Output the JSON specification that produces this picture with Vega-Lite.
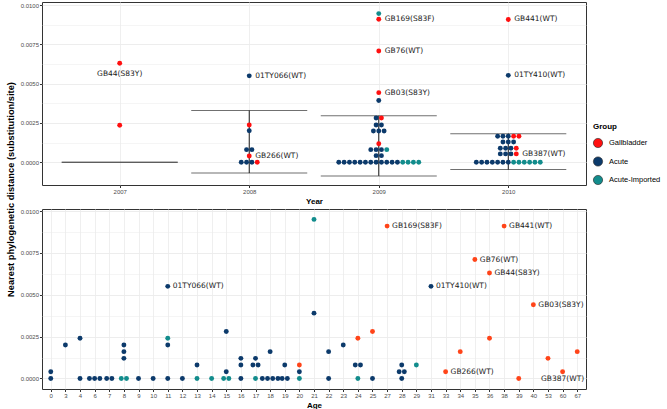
{
  "$schema": "https://vega.github.io/schema/vega-lite/v6.json",
  "padding": {"left": 5, "top": 1, "right": 2, "bottom": 2},
  "bounds": "flush",
  "spacing": 24,
  "config": {
    "view": {"stroke": "#333333", "strokeWidth": 1},
    "axis": {"domain": false, "gridColor": "#EBEBEB", "gridWidth": 0.8, "ticks": true, "tickColor": "#333333", "tickSize": 2.5, "labelFont": "Liberation Sans", "labelFontSize": 6, "labelColor": "#4D4D4D", "labelPadding": 1, "titleFont": "Liberation Sans", "titleFontSize": 8, "titleFontWeight": "bold", "titleColor": "#000000", "labelOverlap": false, "labelFlush": false},
    "legend": {"labelFont": "Liberation Sans", "labelFontSize": 7.5, "labelColor": "#000000", "titleFont": "Liberation Sans", "titleFontSize": 8, "titleFontWeight": "bold", "titleColor": "#000000"},
    "text": {"font": "DejaVu Sans", "fontSize": 7.5, "color": "#1A1A1A"}
  },
  "datasets": {
    "err": [
      {"year": 2007, "lo": 0, "hi": 0},
      {"year": 2008, "lo": -0.00069, "hi": 0.00329},
      {"year": 2009, "lo": -0.00087, "hi": 0.00296},
      {"year": 2010, "lo": -0.00047, "hi": 0.00182}
    ],
    "top": [
      {"year": 2007, "group": "Gallbladder", "value": 0.0063, "label": "GB44(S83Y)"},
      {"year": 2007, "group": "Gallbladder", "value": 0.00235},
      {"year": 2008, "group": "Acute", "value": 0.0055, "label": "01TY066(WT)"},
      {"year": 2008, "group": "Gallbladder", "value": 0.00237},
      {"year": 2008, "group": "Acute", "value": 0.002},
      {"year": 2008, "group": "Acute", "value": 0.0008},
      {"year": 2008, "group": "Acute", "value": 0.0008},
      {"year": 2008, "group": "Gallbladder", "value": 0.0004, "label": "GB266(WT)"},
      {"year": 2008, "group": "Acute", "value": 0},
      {"year": 2008, "group": "Acute", "value": 0},
      {"year": 2008, "group": "Acute", "value": 0},
      {"year": 2008, "group": "Gallbladder", "value": 0},
      {"year": 2009, "group": "Acute-Imported", "value": 0.00946},
      {"year": 2009, "group": "Gallbladder", "value": 0.0091, "label": "GB169(S83F)"},
      {"year": 2009, "group": "Gallbladder", "value": 0.00708, "label": "GB76(WT)"},
      {"year": 2009, "group": "Gallbladder", "value": 0.00443, "label": "GB03(S83Y)"},
      {"year": 2009, "group": "Acute", "value": 0.00393},
      {"year": 2009, "group": "Acute", "value": 0.00282},
      {"year": 2009, "group": "Gallbladder", "value": 0.00282},
      {"year": 2009, "group": "Acute", "value": 0.00237},
      {"year": 2009, "group": "Acute", "value": 0.00237},
      {"year": 2009, "group": "Acute", "value": 0.00199},
      {"year": 2009, "group": "Acute", "value": 0.00199},
      {"year": 2009, "group": "Acute", "value": 0.00199},
      {"year": 2009, "group": "Gallbladder", "value": 0.00118},
      {"year": 2009, "group": "Acute", "value": 0.0008},
      {"year": 2009, "group": "Acute", "value": 0.0008},
      {"year": 2009, "group": "Acute", "value": 0.0008},
      {"year": 2009, "group": "Acute-Imported", "value": 0.0008},
      {"year": 2009, "group": "Acute", "value": 0.00042},
      {"year": 2009, "group": "Acute", "value": 0.00042},
      {"year": 2009, "group": "Acute", "value": 0},
      {"year": 2009, "group": "Acute", "value": 0},
      {"year": 2009, "group": "Acute", "value": 0},
      {"year": 2009, "group": "Acute", "value": 0},
      {"year": 2009, "group": "Acute", "value": 0},
      {"year": 2009, "group": "Acute", "value": 0},
      {"year": 2009, "group": "Acute", "value": 0},
      {"year": 2009, "group": "Acute", "value": 0},
      {"year": 2009, "group": "Acute", "value": 0},
      {"year": 2009, "group": "Acute", "value": 0},
      {"year": 2009, "group": "Acute", "value": 0},
      {"year": 2009, "group": "Acute", "value": 0},
      {"year": 2009, "group": "Acute-Imported", "value": 0},
      {"year": 2009, "group": "Acute-Imported", "value": 0},
      {"year": 2009, "group": "Acute-Imported", "value": 0},
      {"year": 2009, "group": "Acute-Imported", "value": 0},
      {"year": 2010, "group": "Gallbladder", "value": 0.00909, "label": "GB441(WT)"},
      {"year": 2010, "group": "Acute", "value": 0.00553, "label": "01TY410(WT)"},
      {"year": 2010, "group": "Acute", "value": 0.00165},
      {"year": 2010, "group": "Acute", "value": 0.00165},
      {"year": 2010, "group": "Acute", "value": 0.00165},
      {"year": 2010, "group": "Gallbladder", "value": 0.00165},
      {"year": 2010, "group": "Gallbladder", "value": 0.00165},
      {"year": 2010, "group": "Acute", "value": 0.00129},
      {"year": 2010, "group": "Acute", "value": 0.00129},
      {"year": 2010, "group": "Acute", "value": 0.00129},
      {"year": 2010, "group": "Acute", "value": 0.00089},
      {"year": 2010, "group": "Acute", "value": 0.00089},
      {"year": 2010, "group": "Acute", "value": 0.00089},
      {"year": 2010, "group": "Gallbladder", "value": 0.00089},
      {"year": 2010, "group": "Acute", "value": 0.00053},
      {"year": 2010, "group": "Acute", "value": 0.00053},
      {"year": 2010, "group": "Acute", "value": 0.00053},
      {"year": 2010, "group": "Gallbladder", "value": 0.00053, "label": "GB387(WT)"},
      {"year": 2010, "group": "Acute", "value": 0},
      {"year": 2010, "group": "Acute", "value": 0},
      {"year": 2010, "group": "Acute", "value": 0},
      {"year": 2010, "group": "Acute", "value": 0},
      {"year": 2010, "group": "Acute", "value": 0},
      {"year": 2010, "group": "Acute", "value": 0},
      {"year": 2010, "group": "Acute", "value": 0},
      {"year": 2010, "group": "Acute-Imported", "value": 0},
      {"year": 2010, "group": "Acute-Imported", "value": 0},
      {"year": 2010, "group": "Acute-Imported", "value": 0},
      {"year": 2010, "group": "Acute-Imported", "value": 0},
      {"year": 2010, "group": "Acute-Imported", "value": 0},
      {"year": 2010, "group": "Acute-Imported", "value": 0}
    ],
    "bottom": [
      {"age": 0, "group": "Acute", "value": 0.0004},
      {"age": 0, "group": "Acute", "value": 0},
      {"age": 3, "group": "Acute", "value": 0.002},
      {"age": 4, "group": "Acute", "value": 0.0024},
      {"age": 4, "group": "Acute", "value": 0},
      {"age": 6, "group": "Acute", "value": 0},
      {"age": 6, "group": "Acute", "value": 0},
      {"age": 6, "group": "Acute", "value": 0},
      {"age": 7, "group": "Acute", "value": 0},
      {"age": 7, "group": "Acute", "value": 0},
      {"age": 8, "group": "Acute", "value": 0.0012},
      {"age": 8, "group": "Acute", "value": 0.0016},
      {"age": 8, "group": "Acute", "value": 0.002},
      {"age": 8, "group": "Acute-Imported", "value": 0},
      {"age": 8, "group": "Acute-Imported", "value": 0},
      {"age": 9, "group": "Acute", "value": 0},
      {"age": 10, "group": "Acute", "value": 0},
      {"age": 11, "group": "Acute", "value": 0},
      {"age": 11, "group": "Acute", "value": 0.002},
      {"age": 11, "group": "Acute-Imported", "value": 0.0024},
      {"age": 11, "group": "Acute", "value": 0.0055, "label": "01TY066(WT)"},
      {"age": 12, "group": "Acute", "value": 0},
      {"age": 13, "group": "Acute-Imported", "value": 0},
      {"age": 13, "group": "Acute", "value": 0.0008},
      {"age": 14, "group": "Acute-Imported", "value": 0},
      {"age": 15, "group": "Acute-Imported", "value": 0},
      {"age": 15, "group": "Acute-Imported", "value": 0},
      {"age": 15, "group": "Acute", "value": 0.0004},
      {"age": 15, "group": "Acute", "value": 0.0028},
      {"age": 16, "group": "Acute", "value": 0},
      {"age": 16, "group": "Acute", "value": 0.0008},
      {"age": 16, "group": "Acute", "value": 0.0012},
      {"age": 17, "group": "Acute-Imported", "value": 0},
      {"age": 17, "group": "Acute", "value": 0.0008},
      {"age": 17, "group": "Acute", "value": 0.0008},
      {"age": 17, "group": "Acute", "value": 0.0012},
      {"age": 18, "group": "Acute", "value": 0},
      {"age": 18, "group": "Acute", "value": 0},
      {"age": 18, "group": "Acute", "value": 0},
      {"age": 18, "group": "Acute", "value": 0},
      {"age": 18, "group": "Acute", "value": 0.0016},
      {"age": 19, "group": "Acute", "value": 0},
      {"age": 19, "group": "Acute", "value": 0},
      {"age": 19, "group": "Acute", "value": 0.0008},
      {"age": 20, "group": "Gallbladder", "value": 0.0008},
      {"age": 20, "group": "Acute", "value": 0.0004},
      {"age": 20, "group": "Acute-Imported", "value": 0},
      {"age": 21, "group": "Acute-Imported", "value": 0.0095},
      {"age": 21, "group": "Acute", "value": 0.0039},
      {"age": 22, "group": "Acute", "value": 0.0016},
      {"age": 22, "group": "Acute", "value": 0},
      {"age": 23, "group": "Acute", "value": 0.002},
      {"age": 24, "group": "Gallbladder", "value": 0.0024},
      {"age": 24, "group": "Acute", "value": 0.0008},
      {"age": 24, "group": "Acute", "value": 0.0008},
      {"age": 24, "group": "Acute-Imported", "value": 0},
      {"age": 25, "group": "Gallbladder", "value": 0.0028},
      {"age": 25, "group": "Acute", "value": 0},
      {"age": 27, "group": "Gallbladder", "value": 0.0091, "label": "GB169(S83F)"},
      {"age": 28, "group": "Acute", "value": 0.0008},
      {"age": 28, "group": "Acute", "value": 0.0004},
      {"age": 28, "group": "Acute", "value": 0.0004},
      {"age": 28, "group": "Acute", "value": 0},
      {"age": 29, "group": "Acute-Imported", "value": 0.0008},
      {"age": 31, "group": "Acute", "value": 0.0055, "label": "01TY410(WT)"},
      {"age": 33, "group": "Gallbladder", "value": 0.0004, "label": "GB266(WT)"},
      {"age": 34, "group": "Gallbladder", "value": 0.0016},
      {"age": 35, "group": "Gallbladder", "value": 0.0071, "label": "GB76(WT)"},
      {"age": 36, "group": "Gallbladder", "value": 0.0063, "label": "GB44(S83Y)"},
      {"age": 36, "group": "Gallbladder", "value": 0.0024},
      {"age": 38, "group": "Gallbladder", "value": 0.0091, "label": "GB441(WT)"},
      {"age": 39, "group": "Gallbladder", "value": 0},
      {"age": 40, "group": "Gallbladder", "value": 0.0044, "label": "GB03(S83Y)"},
      {"age": 53, "group": "Gallbladder", "value": 0.0012},
      {"age": 60, "group": "Gallbladder", "value": 0.0004, "label": "GB387(WT)"},
      {"age": 67, "group": "Gallbladder", "value": 0.0016}
    ]
  },
  "resolve": {"scale": {"color": "independent", "x": "independent", "y": "independent", "xOffset": "independent"}},
  "vconcat": [
    {
      "width": 544,
      "height": 183,
      "encoding": {
        "x": {"field": "year", "type": "ordinal", "scale": {"type": "point", "padding": 0.6, "domain": [2007, 2008, 2009, 2010]}, "axis": {"title": "Year", "labelAngle": 0, "grid": true, "titlePadding": 3}}
      },
      "layer": [
        {
          "data": {"name": "err"},
          "mark": {"type": "tick", "orient": "horizontal", "size": 116, "thickness": 1, "color": "#333333"},
          "encoding": {
            "y": {"field": "lo", "type": "quantitative", "scale": {"domain": [-0.00145, 0.0102], "nice": false, "zero": false},
              "axis": {"title": "Nearest phylogenetic distance (substitution/site)", "titleFontSize": 9.3, "titleY": 187, "titlePadding": 5, "values": [0, 0.00125, 0.0025, 0.00375, 0.005, 0.00625, 0.0075, 0.00875, 0.01], "format": ".4f",
                "labelExpr": "abs(datum.value*400 - round(datum.value*400)) > 0.01 ? '' : datum.label",
                "tickOpacity": {"condition": {"test": "abs(datum.value*400 - round(datum.value*400)) > 0.01", "value": 0}, "value": 1},
                "gridWidth": {"condition": {"test": "abs(datum.value*400 - round(datum.value*400)) > 0.01", "value": 0.5}, "value": 0.9}}}
          }
        },
        {
          "data": {"name": "err"},
          "mark": {"type": "tick", "orient": "horizontal", "size": 116, "thickness": 1, "color": "#333333"},
          "encoding": {
            "y": {"field": "hi", "type": "quantitative", "scale": {"domain": [-0.00145, 0.0102], "nice": false, "zero": false},
              "axis": {"title": "Nearest phylogenetic distance (substitution/site)", "titleFontSize": 9.3, "titleY": 187, "titlePadding": 5, "values": [0, 0.00125, 0.0025, 0.00375, 0.005, 0.00625, 0.0075, 0.00875, 0.01], "format": ".4f",
                "labelExpr": "abs(datum.value*400 - round(datum.value*400)) > 0.01 ? '' : datum.label",
                "tickOpacity": {"condition": {"test": "abs(datum.value*400 - round(datum.value*400)) > 0.01", "value": 0}, "value": 1},
                "gridWidth": {"condition": {"test": "abs(datum.value*400 - round(datum.value*400)) > 0.01", "value": 0.5}, "value": 0.9}}}
          }
        },
        {
          "data": {"name": "err"},
          "mark": {"type": "rule", "color": "#1A1A1A", "strokeWidth": 1},
          "encoding": {
            "y": {"field": "lo", "type": "quantitative", "scale": {"domain": [-0.00145, 0.0102], "nice": false, "zero": false},
              "axis": {"title": "Nearest phylogenetic distance (substitution/site)", "titleFontSize": 9.3, "titleY": 187, "titlePadding": 5, "values": [0, 0.00125, 0.0025, 0.00375, 0.005, 0.00625, 0.0075, 0.00875, 0.01], "format": ".4f",
                "labelExpr": "abs(datum.value*400 - round(datum.value*400)) > 0.01 ? '' : datum.label",
                "tickOpacity": {"condition": {"test": "abs(datum.value*400 - round(datum.value*400)) > 0.01", "value": 0}, "value": 1},
                "gridWidth": {"condition": {"test": "abs(datum.value*400 - round(datum.value*400)) > 0.01", "value": 0.5}, "value": 0.9}}},
            "y2": {"field": "hi"}
          }
        },
        {
          "data": {"name": "top"},
          "transform": [
            {"window": [{"op": "row_number", "as": "rk"}, {"op": "count", "as": "n"}], "groupby": ["year", "value"], "sort": [{"field": "group", "order": "ascending"}], "frame": [null, null]},
            {"calculate": "datum.rk - (datum.n + 1) / 2", "as": "off"}
          ],
          "layer": [
            {
              "mark": {"type": "circle", "size": 24, "opacity": 1},
              "encoding": {
                "color": {"field": "group", "type": "nominal", "scale": {"domain": ["Gallbladder", "Acute", "Acute-Imported"], "range": ["#FF1010", "#0C3A6B", "#128C8C"]},
                  "legend": {"title": "Group", "orient": "none", "legendX": 551, "legendY": 121, "symbolType": "circle", "symbolSize": 85, "symbolStrokeColor": "#222222", "symbolStrokeWidth": 0.6, "rowPadding": 6.5, "titlePadding": 7, "labelOffset": 6}}
              }
            },
            {
              "transform": [{"filter": "isValid(datum.label) && datum.label != 'GB44(S83Y)'"}],
              "mark": {"type": "text", "align": "left", "baseline": "middle", "dx": 6},
              "encoding": {"text": {"field": "label"}}
            },
            {
              "transform": [{"filter": "datum.label == 'GB44(S83Y)'"}],
              "mark": {"type": "text", "align": "center", "baseline": "middle", "dy": 11},
              "encoding": {"text": {"field": "label"}}
            }
          ],
          "encoding": {
            "xOffset": {"field": "off", "type": "quantitative", "scale": {"domain": [-1, 1], "range": [-5.33, 5.33], "zero": false, "nice": false}},
            "y": {"field": "value", "type": "quantitative", "scale": {"domain": [-0.00145, 0.0102], "nice": false, "zero": false},
              "axis": {"title": "Nearest phylogenetic distance (substitution/site)", "titleFontSize": 9.3, "titleY": 187, "titlePadding": 5, "values": [0, 0.00125, 0.0025, 0.00375, 0.005, 0.00625, 0.0075, 0.00875, 0.01], "format": ".4f",
                "labelExpr": "abs(datum.value*400 - round(datum.value*400)) > 0.01 ? '' : datum.label",
                "tickOpacity": {"condition": {"test": "abs(datum.value*400 - round(datum.value*400)) > 0.01", "value": 0}, "value": 1},
                "gridWidth": {"condition": {"test": "abs(datum.value*400 - round(datum.value*400)) > 0.01", "value": 0.5}, "value": 0.9}}}
          }
        }
      ]
    },
    {
      "width": 544,
      "height": 180,
      "data": {"name": "bottom"},
      "transform": [
        {"window": [{"op": "row_number", "as": "rk"}, {"op": "count", "as": "n"}], "groupby": ["age", "value"], "sort": [{"field": "group", "order": "ascending"}], "frame": [null, null]},
        {"calculate": "datum.rk - (datum.n + 1) / 2", "as": "off"}
      ],
      "encoding": {
        "x": {"field": "age", "type": "ordinal", "scale": {"type": "point", "padding": 0.6}, "axis": {"title": "Age", "labelAngle": 0, "grid": true, "titlePadding": 3}},
        "xOffset": {"field": "off", "type": "quantitative", "scale": {"domain": [-1, 1], "range": [-5.2, 5.2], "zero": false, "nice": false}},
        "y": {"field": "value", "type": "quantitative", "scale": {"domain": [-0.00063, 0.01012], "nice": false, "zero": false},
          "axis": {"title": null, "values": [0, 0.00125, 0.0025, 0.00375, 0.005, 0.00625, 0.0075, 0.00875, 0.01], "format": ".4f",
            "labelExpr": "abs(datum.value*400 - round(datum.value*400)) > 0.01 ? '' : datum.label",
            "tickOpacity": {"condition": {"test": "abs(datum.value*400 - round(datum.value*400)) > 0.01", "value": 0}, "value": 1},
            "gridWidth": {"condition": {"test": "abs(datum.value*400 - round(datum.value*400)) > 0.01", "value": 0.5}, "value": 0.9}}}
      },
      "layer": [
        {
          "mark": {"type": "circle", "size": 24, "opacity": 1},
          "encoding": {
            "color": {"field": "group", "type": "nominal", "scale": {"domain": ["Gallbladder", "Acute", "Acute-Imported"], "range": ["#FF4419", "#0C3A6B", "#128C8C"]}, "legend": null}
          }
        },
        {
          "transform": [{"filter": "isValid(datum.label) && datum.label != 'GB387(WT)'"}],
          "mark": {"type": "text", "align": "left", "baseline": "middle", "dx": 5},
          "encoding": {"text": {"field": "label"}}
        },
        {
          "transform": [{"filter": "datum.label == 'GB387(WT)'"}],
          "mark": {"type": "text", "align": "center", "baseline": "middle", "dy": 7, "dx": 0},
          "encoding": {"text": {"field": "label"}}
        }
      ]
    }
  ]
}
